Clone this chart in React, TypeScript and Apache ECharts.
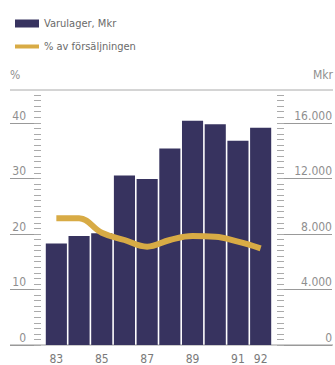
import React, { useEffect, useRef } from "react";
import * as echarts from "echarts";

const years = ["83", "84", "85", "86", "87", "88", "89", "90", "91", "92"];
const shownYears = ["83", "85", "87", "89", "91", "92"];
const inventoryMkr = [7300, 7850, 8050, 12200, 11950, 14150, 16150, 15900, 14700, 15650];
const pctOfSales = [22.8, 22.8, 20.2, 18.9, 17.7, 18.9, 19.6, 19.5, 18.6, 17.4];
const pctTicks = [0, 10, 20, 30, 40];
const mkrTicks = [0, 4000, 8000, 12000, 16000];

const FONT = "'Liberation Sans Narrow', 'DejaVu Sans Condensed', 'Liberation Sans', sans-serif";
const NAVY = "#37335f";
const GOLD = "#d8ab45";
const GRAY = "#8f8f8f";

export default function App() {
  const ref = useRef<HTMLDivElement>(null);
  useEffect(() => {
    const chart = echarts.init(ref.current!, undefined, { renderer: "svg" });
    const legendText = { color: "#6a6a6a", fontSize: 11, fontFamily: FONT };
    chart.setOption({
      animation: false,
      textStyle: { fontFamily: FONT },
      legend: [
        {
          left: 10,
          top: 13,
          itemWidth: 24,
          itemHeight: 8,
          textStyle: legendText,
          data: [{ name: "Varulager, Mkr", icon: "rect" }],
        },
        {
          left: 10,
          top: 36,
          itemWidth: 24,
          itemHeight: 4,
          textStyle: legendText,
          data: [{ name: "% av försäljningen", icon: "rect" }],
        },
      ],
      grid: { left: 45, right: 62, top: 95, bottom: 20 },
      xAxis: {
        type: "category",
        data: years,
        axisLine: { show: false },
        axisTick: { show: false },
        axisLabel: {
          color: "#7a7a7a",
          fontSize: 12,
          margin: 8,
          interval: 0,
          formatter: (v: string) => (shownYears.includes(v) ? v : ""),
        },
      },
      yAxis: [
        {
          type: "value",
          min: 0,
          max: 45,
          interval: 10,
          position: "left",
          offset: 4,
          axisLine: { show: false },
          splitLine: { show: false },
          axisTick: { show: true, customValues: pctTicks, length: 31, lineStyle: { color: "#999" } },
          axisLabel: {
            customValues: pctTicks,
            color: GRAY,
            fontSize: 12,
            margin: 15,
            verticalAlign: "bottom",
            padding: [0, 0, 1, 0],
          },
        },
        {
          type: "value",
          min: 0,
          max: 18000,
          interval: 4000,
          position: "right",
          offset: 5,
          axisLine: { show: false },
          splitLine: { show: false },
          axisTick: { show: true, customValues: mkrTicks, length: 55, lineStyle: { color: "#999" } },
          axisLabel: {
            customValues: mkrTicks,
            color: GRAY,
            fontSize: 12,
            margin: 55,
            align: "right",
            verticalAlign: "bottom",
            padding: [0, 0, 1, 0],
            formatter: (v: number) => v.toLocaleString("de-DE"),
          },
        },
        {
          type: "value",
          min: 0,
          max: 45,
          interval: 1,
          position: "left",
          offset: 4,
          axisLine: { show: false },
          splitLine: { show: false },
          axisLabel: { show: false },
          axisTick: { show: true, length: 7, lineStyle: { color: "#aaa" } },
        },
        {
          type: "value",
          min: 0,
          max: 18000,
          interval: 400,
          position: "right",
          offset: 5,
          axisLine: { show: false },
          splitLine: { show: false },
          axisLabel: { show: false },
          axisTick: { show: true, length: 7, lineStyle: { color: "#aaa" } },
        },
      ],
      graphic: [
        { type: "line", shape: { x1: 10, y1: 90, x2: 333, y2: 90 }, style: { stroke: "#aaa", lineWidth: 1 } },
        { type: "line", shape: { x1: 10, y1: 345, x2: 333, y2: 345 }, style: { stroke: "#999", lineWidth: 1 } },
        { type: "text", left: 10, top: 69, style: { text: "%", fill: GRAY, font: `12px ${FONT}` } },
        { type: "text", right: 2, top: 69, style: { text: "Mkr", fill: GRAY, font: `12px ${FONT}` } },
      ],
      series: [
        {
          name: "Varulager, Mkr",
          type: "bar",
          yAxisIndex: 1,
          data: inventoryMkr,
          barCategoryGap: "7%",
          itemStyle: { color: NAVY },
        },
        {
          name: "% av försäljningen",
          type: "line",
          yAxisIndex: 0,
          data: pctOfSales,
          smooth: 0.4,
          symbol: "none",
          lineStyle: { color: GOLD, width: 6 },
          itemStyle: { color: GOLD },
        },
      ],
    });
    return () => chart.dispose();
  }, []);
  return <div ref={ref} style={{ width: 335, height: 365, position: "absolute", left: 0, top: 0 }} />;
}
